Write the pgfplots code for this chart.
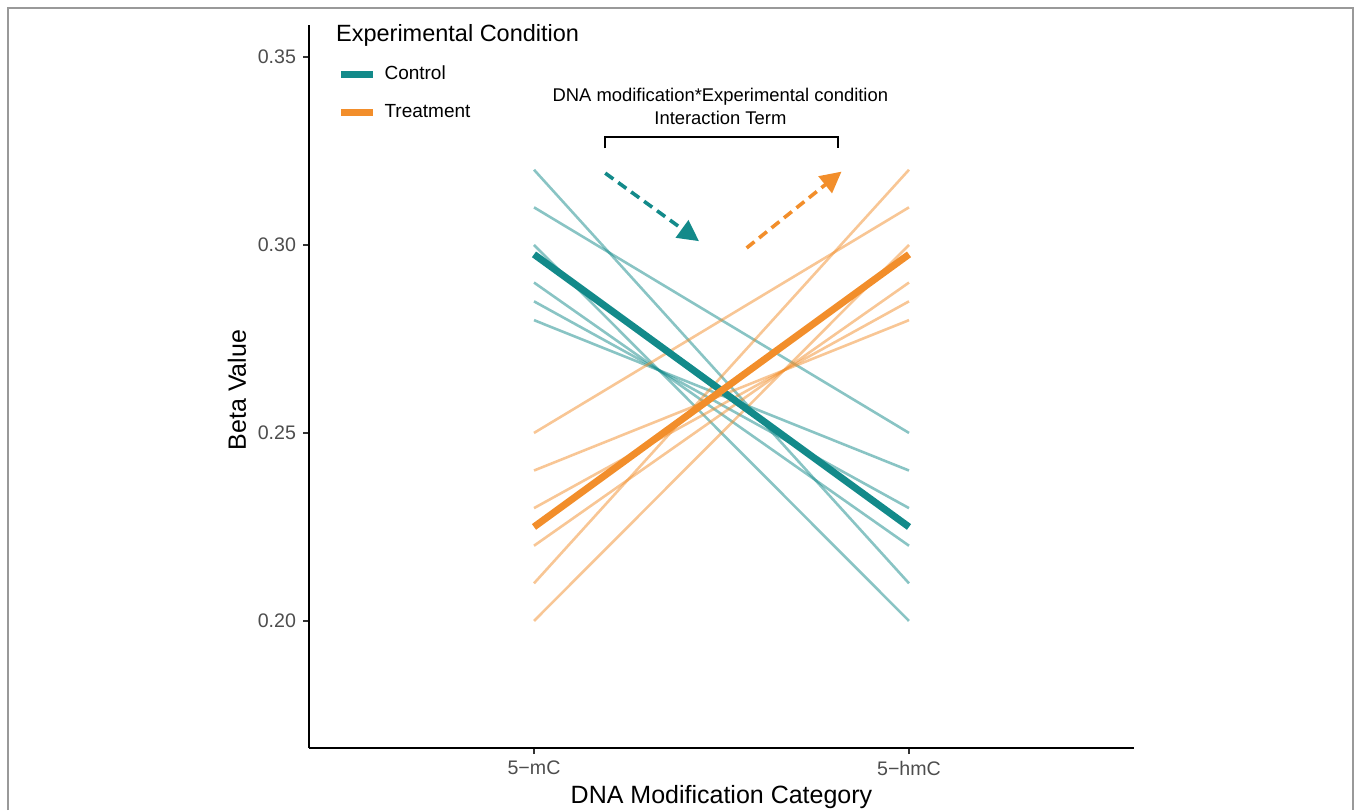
\documentclass[border=0pt]{standalone}
\usepackage{pgfplots}
\pgfplotsset{compat=1.18}
\usepackage{fontspec}
\setmainfont{Liberation Sans}
\usetikzlibrary{arrows.meta}
\definecolor{ctl}{HTML}{138A8A}
\definecolor{trt}{HTML}{F28E2B}
\definecolor{tickgrey}{HTML}{4D4D4D}
\begin{document}
\begin{tikzpicture}
\path[use as bounding box] (0,0) rectangle (677.5pt,405pt);
\draw[line width=0.7pt, color=black!40] (4pt,0pt) -- (4pt,401pt) -- (676.5pt,401pt) -- (676.5pt,0pt);
\begin{axis}[
  at={(154.5pt,31pt)}, anchor=south west,
  scale only axis, width=412.5pt, height=361.5pt,
  xmin=0.4, xmax=2.6, ymin=0.1662, ymax=0.3585,
  axis x line=bottom, axis y line=left,
  axis line style={-, line width=0.8pt, black},
  xtick={1,2}, xticklabels={5−mC,5−hmC},
  ytick={0.20,0.25,0.30,0.35},
  yticklabel style={/pgf/number format/.cd, fixed, fixed zerofill, precision=2, assume math mode=true},
  tick label style={font=\fontsize{9.8}{11}\selectfont, color=tickgrey},
  tick align=outside, major tick length=3pt,
  tick style={line width=0.6pt, black!80},
  xlabel={DNA Modification Category}, ylabel={Beta Value},
  label style={font=\fontsize{12.5}{14}\selectfont},
  xlabel style={at={(axis description cs:0.5,-0.068)}, anchor=center},
  ylabel style={at={(axis description cs:-0.0875,0.495)}, anchor=center},
  clip=false,
  legend cell align=left,
  legend image code/.code={\draw[#1] (0pt,0pt) -- (16pt,0pt);},
  legend style={at={(axis description cs:0.0341,0.9495)}, anchor=north west, draw=none, fill=none,
    font=\fontsize{9.5}{11}\selectfont, row sep=7pt, inner sep=0pt, column sep=2pt},
]
\addlegendimage{ctl, line width=3.5pt}\addlegendentry{Control}
\addlegendimage{trt, line width=3.5pt}\addlegendentry{Treatment}
% thin control lines
\addplot[forget plot, ctl, opacity=0.5, line width=1.3pt] coordinates {(1,0.32) (2,0.21)};
\addplot[forget plot, ctl, opacity=0.5, line width=1.3pt] coordinates {(1,0.31) (2,0.25)};
\addplot[forget plot, ctl, opacity=0.5, line width=1.3pt] coordinates {(1,0.30) (2,0.20)};
\addplot[forget plot, ctl, opacity=0.5, line width=1.3pt] coordinates {(1,0.29) (2,0.22)};
\addplot[forget plot, ctl, opacity=0.5, line width=1.3pt] coordinates {(1,0.285) (2,0.23)};
\addplot[forget plot, ctl, opacity=0.5, line width=1.3pt] coordinates {(1,0.28) (2,0.24)};
% thin treatment lines
\addplot[forget plot, trt, opacity=0.5, line width=1.3pt] coordinates {(1,0.21) (2,0.32)};
\addplot[forget plot, trt, opacity=0.5, line width=1.3pt] coordinates {(1,0.25) (2,0.31)};
\addplot[forget plot, trt, opacity=0.5, line width=1.3pt] coordinates {(1,0.20) (2,0.30)};
\addplot[forget plot, trt, opacity=0.5, line width=1.3pt] coordinates {(1,0.22) (2,0.29)};
\addplot[forget plot, trt, opacity=0.5, line width=1.3pt] coordinates {(1,0.23) (2,0.285)};
\addplot[forget plot, trt, opacity=0.5, line width=1.3pt] coordinates {(1,0.24) (2,0.28)};
% means
\addplot[forget plot, ctl, line width=3.5pt] coordinates {(1,0.2975) (2,0.225)};
\addplot[forget plot, trt, line width=3.5pt] coordinates {(1,0.225) (2,0.2975)};
% annotations
\draw[ctl, line width=1.8pt, dash pattern=on 5pt off 3pt, -{Triangle[length=10.5pt,width=10.5pt]}]
  (axis cs:1.19,0.3191) -- (axis cs:1.44,0.3010);
\draw[trt, line width=1.8pt, dash pattern=on 5pt off 3pt, -{Triangle[length=10.5pt,width=10.5pt]}]
  (axis cs:1.567,0.2992) -- (axis cs:1.82,0.3195);
\draw[line width=1.1pt, black] (axis cs:1.19,0.3257) -- (axis cs:1.19,0.3287) -- (axis cs:1.81,0.3287) -- (axis cs:1.81,0.3257);
\node[font=\fontsize{9.2}{11}\selectfont] at (axis cs:1.497,0.3394) {DNA modification*Experimental condition};
\node[font=\fontsize{9.2}{11}\selectfont] at (axis cs:1.497,0.3338) {Interaction Term};
\node[anchor=west, font=\fontsize{11.75}{13}\selectfont] at (axis description cs:0.0243,0.985) {Experimental Condition};
\end{axis}
\end{tikzpicture}
\end{document}
